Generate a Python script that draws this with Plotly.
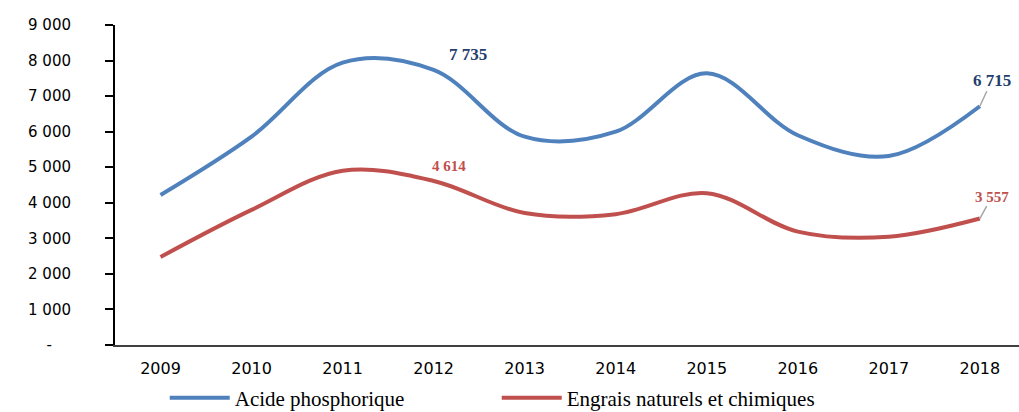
import plotly.graph_objects as go

years = ["2009", "2010", "2011", "2012", "2013", "2014", "2015", "2016", "2017", "2018"]
acide = [4218, 5860, 7940, 7735, 5860, 6000, 7640, 5900, 5315, 6715]
engrais = [2475, 3800, 4900, 4614, 3710, 3680, 4270, 3190, 3045, 3557]
y_ticks = [0, 1000, 2000, 3000, 4000, 5000, 6000, 7000, 8000, 9000]
y_tick_text = ["-\u2007\u2007", "1 000", "2 000", "3 000", "4 000", "5 000", "6 000", "7 000", "8 000", "9 000"]

blue = "#4F81BD"
red = "#C0504D"
navy = "#1F3F6E"

def fmt(v):
    return f"{v:,}".replace(",", " ")

fig = go.Figure()
fig.add_trace(go.Scatter(x=list(range(len(years))), y=acide, mode="lines",
                         name="Acide phosphorique",
                         line=dict(color=blue, width=4, shape="spline", smoothing=1.0)))
fig.add_trace(go.Scatter(x=list(range(len(years))), y=engrais, mode="lines",
                         name="Engrais naturels et chimiques",
                         line=dict(color=red, width=4, shape="spline", smoothing=1.0)))

# data labels
fig.add_annotation(x=3, y=acide[3], text=fmt(acide[3]), showarrow=False, xshift=34, yshift=15,
                   font=dict(family="Liberation Serif", size=17, color=navy, weight="bold"))
fig.add_annotation(x=3, y=engrais[3], text=fmt(engrais[3]), showarrow=False, xshift=15, yshift=15,
                   font=dict(family="Liberation Serif", size=15, color=red, weight="bold"))
fig.add_annotation(x=9, y=acide[9], text=fmt(acide[9]), showarrow=True, arrowhead=0,
                   arrowcolor="#A6A6A6", arrowwidth=1.5, ax=12, ay=-26,
                   font=dict(family="Liberation Serif", size=17, color=navy, weight="bold"))
fig.add_annotation(x=9, y=engrais[9], text=fmt(engrais[9]), showarrow=True, arrowhead=0,
                   arrowcolor="#A6A6A6", arrowwidth=1.5, ax=12, ay=-22,
                   font=dict(family="Liberation Serif", size=15, color=red, weight="bold"))

fig.update_layout(
    width=1019, height=412,
    margin=dict(l=115, r=0, t=25, b=67, autoexpand=False),
    plot_bgcolor="white", paper_bgcolor="white",
    showlegend=True,
    legend=dict(orientation="h", x=0.055, xanchor="left", y=-0.166, yanchor="middle",
                font=dict(family="Liberation Serif", size=21, color="black"),
                entrywidth=257, itemwidth=60, bgcolor="rgba(0,0,0,0)"),
    font=dict(family="DejaVu Sans", size=16, color="black"),
)
fig.update_xaxes(
    tickmode="array", tickvals=list(range(len(years))), ticktext=years,
    range=[-0.5, 9.43], showgrid=False, zeroline=False,
    showline=True, linecolor="#404040", linewidth=2, ticks="",
    ticklabelstandoff=8, automargin=False,
    tickfont=dict(family="DejaVu Sans", size=16, color="black"),
)
fig.update_yaxes(
    tickmode="array", tickvals=y_ticks, ticktext=y_tick_text,
    range=[0, 9000], showgrid=False, zeroline=False,
    showline=True, linecolor="black", linewidth=2,
    ticks="outside", ticklen=8, tickwidth=1.5, tickcolor="black",
    ticklabelstandoff=31, automargin=False,
    tickfont=dict(family="DejaVu Sans", size=15, color="black"),
)

fig.write_html("out.html", config={"displayModeBar": False},
               post_script="document.body.style.margin='0';")
